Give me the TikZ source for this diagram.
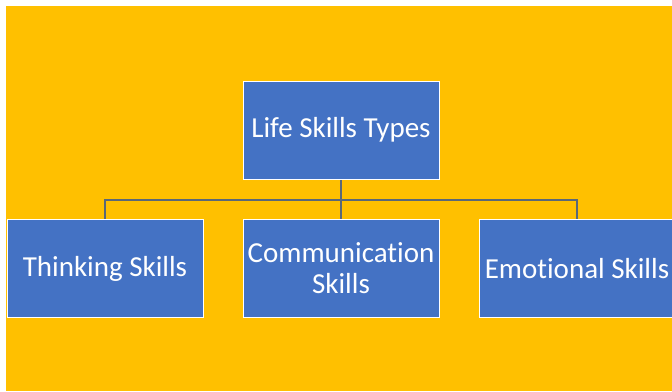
\documentclass[tikz,border=0pt]{standalone}
\usepackage{fontspec}
\setmainfont[Ligatures=NoCommon]{Carlito}
\definecolor{panel}{HTML}{FFC000}
\definecolor{boxblue}{HTML}{4472C4}
\definecolor{wire}{HTML}{5A6878}
\begin{document}
\begin{tikzpicture}[x=1pt,y=-1pt,
  skill/.style={draw=white,line width=0.9pt,fill=boxblue,text=white,
    minimum width=196pt,minimum height=98pt,inner sep=1pt,align=center,
    font=\fontsize{29}{31}\selectfont},
  link/.style={draw=wire,line width=1.4pt}]
  \useasboundingbox (0,0) rectangle (672,391);
  \fill[white] (0,0) rectangle (672,391);
  \fill[panel] (6,6) rectangle (672,391);
  \node[skill] (types) at (341,130) {Life Skills Types};
  \node[skill] (think) at (105,268.5) {Thinking Skills};
  \node[skill] (comm) at (341,268.5) {Communication\\Skills};
  \node[skill] (emot) at (577,268.5) {Emotional Skills};
  \coordinate (bar) at (341,200);
  \draw[link] (types) -- (bar);
  \draw[link] (bar) -| (think);
  \draw[link] (bar) -- (comm);
  \draw[link] (bar) -| (emot);
  % redraw the boxes over the wire ends
  \node[skill] at (types) {Life Skills Types};
  \node[skill] at (think) {Thinking Skills};
  \node[skill] at (comm) {Communication\\Skills};
  \node[skill] at (emot) {Emotional Skills};
\end{tikzpicture}
\end{document}
